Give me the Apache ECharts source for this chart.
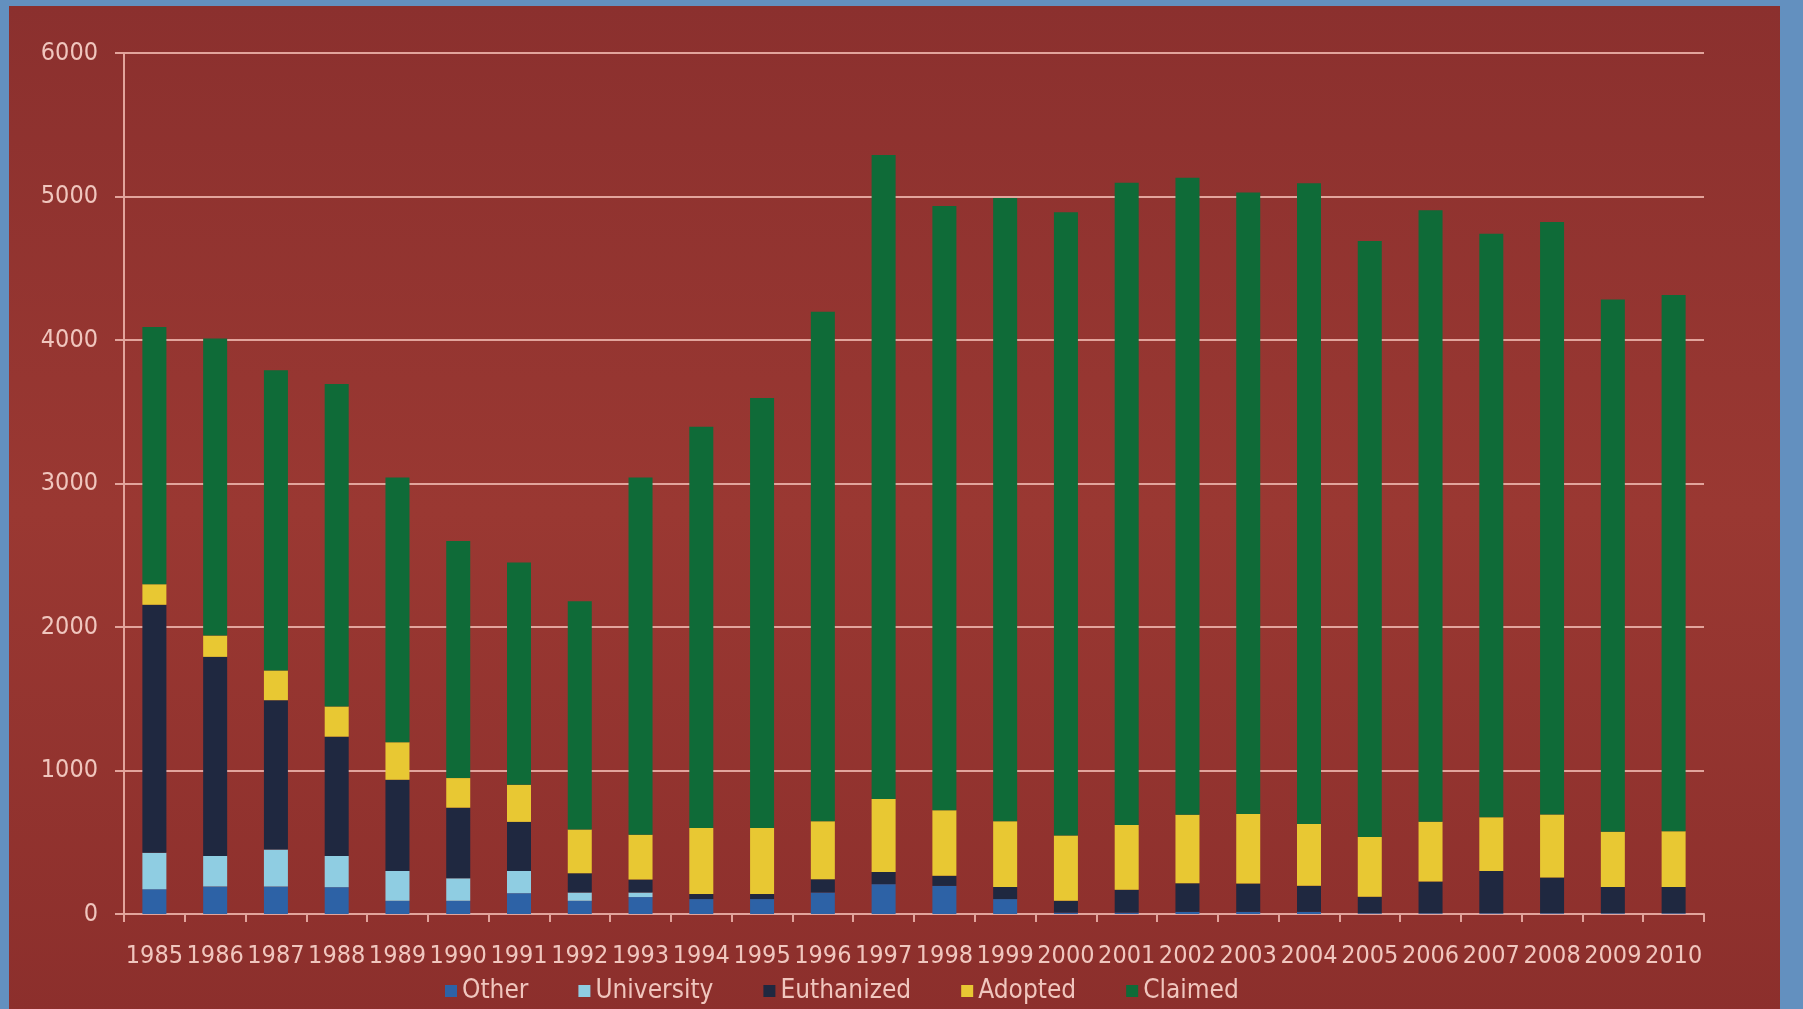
<!DOCTYPE html>
<html>
<head>
<meta charset="utf-8">
<script src="https://cdn.jsdelivr.net/npm/echarts@6/dist/echarts.min.js"></script>
<style>
html,body{margin:0;padding:0;width:1803px;height:1009px;overflow:hidden;background:#6390bf;}
#c{width:1803px;height:1009px;}
</style>
</head>
<body>
<div id="c"></div>
<script>
const years = ['1985','1986','1987','1988','1989','1990','1991','1992','1993','1994','1995','1996','1997','1998','1999','2000','2001','2002','2003','2004','2005','2006','2007','2008','2009','2010'];
const yTicks = [0,1000,2000,3000,4000,5000,6000];
const other      = [173,192,192,187,92,92,145,92,118,104,104,150,208,196,104,10,10,15,15,15,5,5,5,5,5,5];
const university = [254,212,258,217,208,157,155,58,32,0,0,0,0,0,0,0,0,0,0,0,0,0,0,0,0,0];
const euthanized = [1728,1388,1040,832,635,492,342,134,90,35,35,92,85,70,85,82,159,199,197,181,115,221,295,249,184,184];
const adopted    = [143,148,207,210,261,206,258,305,312,461,461,405,508,457,458,455,452,478,485,432,416,416,374,439,384,388];
const claimed    = [1792,2070,2093,2247,1846,1653,1550,1591,2490,2795,2996,3550,4488,4211,4343,4343,4474,4438,4331,4465,4154,4262,4067,4129,3710,3736];

const txt = '#f0c6be';
const lineC = '#e2a49c';
const font = '"DejaVu Sans Condensed", "Liberation Sans", sans-serif';

const chart = echarts.init(document.getElementById('c'), null, {renderer:'canvas'});
function mk(name, data, color){
  return {name, type:'bar', stack:'t', data, barWidth:24,
    itemStyle:{color}, emphasis:{disabled:true}};
}
chart.setOption({
  backgroundColor:'#6390bf',
  animation:false,
  graphic:[{type:'rect', z:-10, silent:true,
    shape:{x:9,y:6,width:1771,height:1010},
    style:{fill:new echarts.graphic.LinearGradient(0,0,0,1,[
      {offset:0,color:'#8b302e'},{offset:0.5,color:'#9a3832'},{offset:1,color:'#8c2f2c'}])}}],
  grid:{left:124,right:99,top:53,bottom:95,containLabel:false},
  legend:{
    left:440, top:973, icon:'rect', itemWidth:12, itemHeight:12, itemGap:50,
    textStyle:{color:txt, fontSize:26, fontFamily:font},
    data:['Other','University','Euthanized','Adopted','Claimed']
  },
  xAxis:{type:'category', data:years, boundaryGap:true,
    axisLine:{lineStyle:{color:lineC,width:2}},
    axisTick:{show:true, length:8, lineStyle:{color:lineC,width:2}, interval:0},
    axisLabel:{color:txt, fontSize:25, fontFamily:font, margin:30, interval:0}
  },
  yAxis:{type:'value', min:0, max:6000, interval:1000,
    axisLine:{show:true, lineStyle:{color:lineC,width:2}},
    axisTick:{show:true, length:9, lineStyle:{color:lineC,width:2}},
    splitLine:{show:true, lineStyle:{color:lineC,width:2}},
    axisLabel:{color:txt, fontSize:25, fontFamily:font, margin:26,
      formatter:v=>yTicks.includes(v)?String(v):''}
  },
  series:[
    mk('Other', other, '#2d62a6'),
    mk('University', university, '#8fcde2'),
    mk('Euthanized', euthanized, '#1f2840'),
    mk('Adopted', adopted, '#e8c833'),
    mk('Claimed', claimed, '#0f6b38')
  ]
});
</script>
</body>
</html>
